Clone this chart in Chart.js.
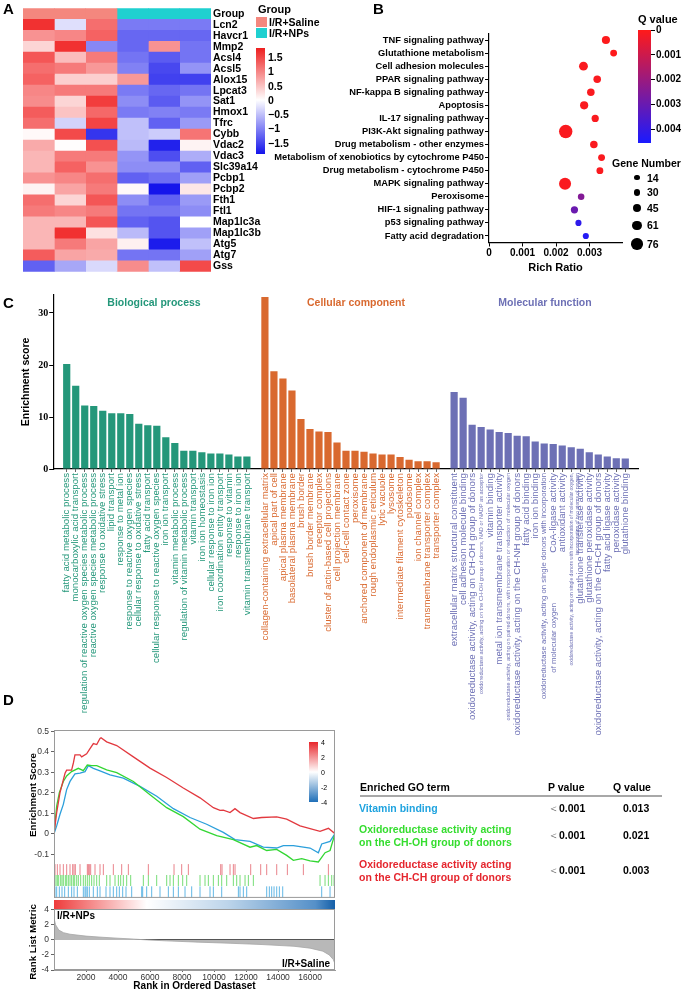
<!DOCTYPE html>
<html>
<head>
<meta charset="utf-8">
<script src="https://cdn.jsdelivr.net/npm/chart.js@4.4.1/dist/chart.umd.min.js"></script>
<style>
  html, body { margin: 0; padding: 0; background: #fff; }
  #page { position: relative; width: 682px; height: 992px; overflow: hidden; font-family: Arial, "Liberation Sans", sans-serif; color: #000; }
  #page canvas { position: absolute; }
  .t { position: absolute; white-space: nowrap; line-height: 1; font-weight: bold; }
  .letter { font-size: 15px; }
  .rot { transform: translate(-50%, -50%) rotate(-90deg); }
  .ctr { transform: translateX(-50%); }
  .box { position: absolute; }
</style>
</head>
<body>
<div id="page">
  <canvas id="heatmap" width="330" height="280" style="left:0;top:0"></canvas>
  <canvas id="bubble" width="432" height="280" style="left:250px;top:0"></canvas>
  <canvas id="goBars" width="682" height="460" style="left:0;top:285px"></canvas>
  <canvas id="esPlot" width="345" height="185" style="left:0;top:720px"></canvas>
  <canvas id="rankPlot" width="345" height="97" style="left:0;top:895px"></canvas>

  <!-- panel A legend -->
  <div class="t letter" style="left:3px;top:1px">A</div>
  <div class="t" style="left:258px;top:4px;font-size:11px">Group</div>
  <div class="box" style="left:256px;top:17px;width:11px;height:10px;background:#f4877e"></div>
  <div class="t" style="left:269px;top:16.5px;font-size:10.5px">I/R+Saline</div>
  <div class="box" style="left:256px;top:28px;width:11px;height:10px;background:#1fd0d0"></div>
  <div class="t" style="left:269px;top:27.5px;font-size:10.5px">I/R+NPs</div>
  <div class="box" style="left:256px;top:48px;width:9px;height:106px;background:linear-gradient(#ee1f1f,#ffffff 49%,#1414eb)"></div>
  <div class="t" style="left:268px;top:52px;font-size:10.5px">1.5</div>
  <div class="t" style="left:268px;top:66px;font-size:10.5px">1</div>
  <div class="t" style="left:268px;top:81px;font-size:10.5px">0.5</div>
  <div class="t" style="left:268px;top:95px;font-size:10.5px">0</div>
  <div class="t" style="left:268px;top:109px;font-size:10.5px">−0.5</div>
  <div class="t" style="left:268px;top:123px;font-size:10.5px">−1</div>
  <div class="t" style="left:268px;top:138px;font-size:10.5px">−1.5</div>

  <!-- panel B legend -->
  <div class="t letter" style="left:373px;top:1px">B</div>
  <div class="t" style="left:638px;top:14px;font-size:11px">Q value</div>
  <div class="box" style="left:638px;top:30px;width:13px;height:113px;background:linear-gradient(#ff1a1a,#1a1aff)"></div>
  <div class="box" style="left:651px;top:30px;width:4px;height:1px;background:#000"></div>
  <div class="box" style="left:651px;top:54px;width:4px;height:1px;background:#000"></div>
  <div class="box" style="left:651px;top:79px;width:4px;height:1px;background:#000"></div>
  <div class="box" style="left:651px;top:104px;width:4px;height:1px;background:#000"></div>
  <div class="box" style="left:651px;top:129px;width:4px;height:1px;background:#000"></div>
  <div class="t" style="left:656px;top:25px;font-size:10px">0</div>
  <div class="t" style="left:656px;top:49.5px;font-size:10px">0.001</div>
  <div class="t" style="left:656px;top:74px;font-size:10px">0.002</div>
  <div class="t" style="left:656px;top:99px;font-size:10px">0.003</div>
  <div class="t" style="left:656px;top:124px;font-size:10px">0.004</div>
  <div class="t" style="left:612px;top:158px;font-size:10.5px">Gene Number</div>
  <div class="box" style="left:634.3px;top:175px;width:5.4px;height:5.4px;border-radius:50%;background:#000"></div>
  <div class="box" style="left:633.7px;top:189px;width:6.6px;height:6.6px;border-radius:50%;background:#000"></div>
  <div class="box" style="left:633px;top:204px;width:8px;height:8px;border-radius:50%;background:#000"></div>
  <div class="box" style="left:632.3px;top:220.6px;width:9.4px;height:9.4px;border-radius:50%;background:#000"></div>
  <div class="box" style="left:631.3px;top:238.3px;width:11.4px;height:11.4px;border-radius:50%;background:#000"></div>
  <div class="t" style="left:647px;top:172.7px;font-size:10.5px">14</div>
  <div class="t" style="left:647px;top:187.3px;font-size:10.5px">30</div>
  <div class="t" style="left:647px;top:203px;font-size:10.5px">45</div>
  <div class="t" style="left:647px;top:220.3px;font-size:10.5px">61</div>
  <div class="t" style="left:647px;top:239px;font-size:10.5px">76</div>

  <!-- panel C annotations -->
  <div class="t letter" style="left:3px;top:295px">C</div>
  <div class="t ctr" style="left:154px;top:297px;font-size:10.5px;color:#24977a">Biological process</div>
  <div class="t ctr" style="left:356px;top:297px;font-size:10.5px;color:#d9692f">Cellular component</div>
  <div class="t ctr" style="left:545px;top:297px;font-size:10.5px;color:#6d70b5">Molecular function</div>

  <!-- panel D annotations -->
  <div class="t letter" style="left:3px;top:692px">D</div>
  <div class="t rot" style="left:33px;top:795px;font-size:9.8px">Enrichment Score</div>
  <div class="t rot" style="left:33px;top:942px;font-size:9.8px">Rank List Metric</div>
  <div class="t" style="left:57px;top:911px;font-size:10px">I/R+NPs</div>
  <div class="t" style="left:282px;top:959px;font-size:10px">I/R+Saline</div>
  <div class="box" style="left:309px;top:742px;width:9px;height:60px;background:linear-gradient(#e8262b,#ffffff 50%,#1f6fb8)"></div>
  <div class="t" style="left:321px;top:738.5px;font-size:7px;font-weight:normal">4</div>
  <div class="t" style="left:321px;top:753.5px;font-size:7px;font-weight:normal">2</div>
  <div class="t" style="left:321px;top:768.5px;font-size:7px;font-weight:normal">0</div>
  <div class="t" style="left:321px;top:783.5px;font-size:7px;font-weight:normal">-2</div>
  <div class="t" style="left:321px;top:798.5px;font-size:7px;font-weight:normal">-4</div>

  <!-- GSEA table -->
  <div class="t" style="left:360px;top:782px;font-size:10.5px">Enriched GO term</div>
  <div class="t" style="left:548px;top:782px;font-size:10.5px">P value</div>
  <div class="t" style="left:613px;top:782px;font-size:10.5px">Q value</div>
  <div class="box" style="left:360px;top:795px;width:302px;height:1.5px;background:#a8a8a8"></div>
  <div class="t" style="left:359px;top:803px;font-size:10.5px;color:#1fa3df">Vitamin binding</div>
  <div class="t" style="left:548px;top:803px;font-size:10.5px"><span style="font-weight:normal;color:#666">＜</span>0.001</div>
  <div class="t" style="left:623px;top:803px;font-size:10.5px">0.013</div>
  <div class="t" style="left:359px;top:824px;font-size:10.5px;color:#35dd2f">Oxidoreductase activity acting</div>
  <div class="t" style="left:359px;top:837px;font-size:10.5px;color:#35dd2f">on the CH-OH group of donors</div>
  <div class="t" style="left:548px;top:830px;font-size:10.5px"><span style="font-weight:normal;color:#666">＜</span>0.001</div>
  <div class="t" style="left:623px;top:830px;font-size:10.5px">0.021</div>
  <div class="t" style="left:359px;top:859px;font-size:10.5px;color:#e5262e">Oxidoreductase activity acting</div>
  <div class="t" style="left:359px;top:872px;font-size:10.5px;color:#e5262e">on the CH-CH group of donors</div>
  <div class="t" style="left:548px;top:865px;font-size:10.5px"><span style="font-weight:normal;color:#666">＜</span>0.001</div>
  <div class="t" style="left:623px;top:865px;font-size:10.5px">0.003</div>
</div>

<script>
// ---------- Panel A: heatmap of z-scores ----------
const genes = ['Lcn2', 'Havcr1', 'Mmp2', 'Acsl4', 'Acsl5', 'Alox15', 'Lpcat3', 'Sat1', 'Hmox1', 'Tfrc',
  'Cybb', 'Vdac2', 'Vdac3', 'Slc39a14', 'Pcbp1', 'Pcbp2', 'Fth1', 'Ftl1', 'Map1lc3a', 'Map1lc3b',
  'Atg5', 'Atg7', 'Gss'];
const samples = ['Saline 1', 'Saline 2', 'Saline 3', 'NPs 1', 'NPs 2', 'NPs 3'];
const sampleGroups = ['I/R+Saline', 'I/R+Saline', 'I/R+Saline', 'I/R+NPs', 'I/R+NPs', 'I/R+NPs'];
const zScores = [
  [1.7, -0.25, 1.2, -1.05, -1.05, -1.05],
  [0.9, 1.0, 1.3, -1.2, -1.2, -1.2],
  [0.35, 1.7, -0.95, -1.2, 0.9, -1.1],
  [1.4, 0.55, 1.1, -1.1, -1.3, -1.1],
  [1.2, 1.1, 0.85, -1.0, -1.45, -0.85],
  [1.3, 0.4, 0.4, 0.85, -1.5, -1.5],
  [1.0, 1.1, 1.1, -1.05, -1.2, -1.1],
  [0.95, 0.35, 1.6, -0.9, -1.3, -0.85],
  [1.35, 0.5, 1.25, -1.05, -1.0, -1.05],
  [1.2, -0.35, 1.55, -0.5, -1.25, -0.8],
  [0.05, 1.5, -1.6, -0.5, -0.4, 1.15],
  [0.7, 0.02, 1.45, -0.55, -1.75, 0.1],
  [0.6, 1.1, 1.1, -0.85, -1.4, -0.65],
  [0.6, 1.3, 0.9, -0.9, -0.9, -1.25],
  [0.9, 1.0, 1.2, -1.25, -1.15, -0.75],
  [0.1, 0.75, 1.1, 0.05, -1.85, 0.2],
  [1.2, 0.35, 1.4, -0.9, -1.25, -0.8],
  [1.1, 1.0, 1.1, -1.1, -1.1, -0.9],
  [0.6, 0.6, 1.4, -1.25, -1.35, 0.0],
  [0.6, 1.7, 0.25, -0.55, -1.35, -0.75],
  [0.6, 1.1, 0.75, 0.12, -1.8, -0.5],
  [1.35, 0.75, 0.7, -1.1, -1.1, -0.75],
  [-1.25, -0.7, -0.3, 0.95, -0.5, 1.5]
];

// ---------- Panel B: KEGG bubble ----------
const pathways = ['TNF signaling pathway', 'Glutathione metabolism', 'Cell adhesion molecules',
  'PPAR signaling pathway', 'NF-kappa B signaling pathway', 'Apoptosis', 'IL-17 signaling pathway',
  'PI3K-Akt signaling pathway', 'Drug metabolism - other enzymes',
  'Metabolism of xenobiotics by cytochrome P450', 'Drug metabolism - cytochrome P450',
  'MAPK signaling pathway', 'Peroxisome', 'HIF-1 signaling pathway', 'p53 signaling pathway',
  'Fatty acid degradation'];
const richRatio = [0.00349, 0.00372, 0.00282, 0.00323, 0.00304, 0.00284, 0.00317, 0.00229, 0.00313,
  0.00336, 0.00331, 0.00227, 0.00275, 0.00255, 0.00267, 0.00289];
const geneNumber = [28, 20, 33, 24, 24, 28, 22, 76, 24, 20, 20, 61, 18, 22, 16, 16];
const qValue = [0.00005, 0.00003, 0.0001, 0.0001, 0.0001, 0.0001, 0.0001, 0.0001, 0.0001, 0.0001,
  0.0001, 0.0001, 0.0025, 0.003, 0.0042, 0.0044];
const richTicks = [0, 0.001, 0.002, 0.003];

// ---------- Panel C: GO enrichment ----------
const bpTerms = ['fatty acid metabolic process', 'monocarboxylic acid transport',
  'regulation of reactive oxygen species metabolic process', 'reactive oxygen species metabolic process',
  'response to oxidative stress', 'lipid transport', 'response to metal ion',
  'response to reactive oxygen species', 'cellular response to oxidative stress', 'fatty acid transport',
  'cellular response to reactive oxygen species', 'iron ion transport', 'vitamin metabolic process',
  'regulation of vitamin metabolic process', 'vitamin transport', 'iron ion homeostasis',
  'cellular response to iron ion', 'iron coordination entity transport', 'response to vitamin',
  'response to iron ion', 'vitamin transmembrane transport'];
const bpScores = [20.2, 16.0, 12.2, 12.1, 11.2, 10.7, 10.7, 10.6, 8.7, 8.4, 8.3, 6.1, 5.0, 3.5, 3.5,
  3.2, 3.0, 3.0, 2.8, 2.4, 2.4];
const ccTerms = ['collagen-containing extracellular matrix', 'apical part of cell', 'apical plasma membrane',
  'basolateral plasma membrane', 'brush border', 'brush border membrane', 'receptor complex',
  'cluster of actin-based cell projections', 'cell projection membrane', 'cell-cell contact zone',
  'peroxisome', 'anchored component of membrane', 'rough endoplasmic reticulum', 'lytic vacuole',
  'lysosome', 'intermediate filament cytoskeleton', 'podosome', 'ion channel complex',
  'transmembrane transporter complex', 'transporter complex'];
const ccScores = [33.1, 18.8, 17.4, 15.1, 9.6, 7.7, 7.2, 7.1, 5.1, 3.5, 3.5, 3.3, 3.0, 2.8, 2.8, 2.3,
  1.8, 1.5, 1.5, 1.3];
const mfTerms = ['extracellular matrix structural constituent', 'cell adhesion molecule binding',
  'oxidoreductase activity, acting on CH-OH group of donors',
  'oxidoreductase activity, acting on the CH-OH group of donors, NAD or NADP as acceptor',
  'vitamin binding', 'metal ion transmembrane transporter activity',
  'oxidoreductase activity, acting on paired donors, with incorporation or reduction of molecular oxygen',
  'oxidoreductase activity, acting on the CH-NH group of donors', 'fatty acid binding', 'iron ion binding',
  ['oxidoreductase activity, acting on single donors with incorporation', 'of molecular oxygen'],
  'CoA-ligase activity', 'antioxidant activity',
  ['oxidoreductase activity, acting on single donors with incorporation of molecular oxygen,', 'incorporation of two atoms of oxygen'],
  'glutathione transferase activity', 'glutathione peroxidase activity',
  'oxidoreductase activity, acting on the CH-CH group of donors', 'fatty acid ligase activity',
  'peroxidase activity', 'glutathione binding'];
const mfScores = [14.8, 13.7, 8.5, 8.1, 7.6, 7.1, 6.9, 6.4, 6.3, 5.3, 4.9, 4.8, 4.5, 4.2, 3.9, 3.2,
  2.8, 2.4, 2.05, 2.0];
const scoreTicks = [0, 10, 20, 30];

// ---------- Panel D: GSEA ----------
const esRedRank = [0, 167, 375, 690, 790, 1100, 1210, 1310, 1625, 1730, 2040, 2250, 2460, 2670, 2875, 2940,
  3290, 3920, 4960, 6000, 7040, 8080, 9125, 9960, 10375, 10580, 11000, 11310, 11625, 12460, 12980, 13920,
  14540, 15375, 16625, 17150, 17560];
const esRed = [0, 0.103, 0.2, 0.295, 0.31, 0.31, 0.345, 0.385, 0.385, 0.375, 0.39, 0.415, 0.44, 0.435,
  0.465, 0.468, 0.448, 0.43, 0.375, 0.32, 0.274, 0.223, 0.175, 0.127, 0.114, 0.115, 0.103, 0.122, 0.103,
  0.074, 0.079, 0.082, 0.071, 0.038, 0.011, 0.026, 0];
const esGreenRank = [0, 167, 333, 583, 790, 1100, 1520, 1833, 2080, 2350, 2670, 3290, 3920, 4960, 6000,
  7040, 8080, 9125, 10167, 11208, 12250, 12667, 13290, 13917, 14540, 14958, 15480, 16000, 16520, 16940,
  17250, 17560];
const esGreen = [0, 0.135, 0.2, 0.255, 0.282, 0.303, 0.319, 0.308, 0.335, 0.332, 0.332, 0.311, 0.298,
  0.255, 0.19, 0.127, 0.083, 0.022, -0.01, -0.029, -0.066, -0.058, -0.082, -0.077, -0.106, -0.13, -0.122,
  -0.133, -0.138, -0.093, -0.082, 0];
const esBlueRank = [0, 167, 375, 583, 790, 1000, 1310, 1625, 1940, 2146, 2460, 2875, 3500, 4330, 5375,
  6420, 7460, 8500, 9540, 10580, 11310, 12250, 13080, 13920, 14330, 14960, 16000, 16520, 16730, 17250, 17560];
const esBlue = [0, 0.038, 0.095, 0.143, 0.215, 0.255, 0.292, 0.295, 0.303, 0.332, 0.319, 0.306, 0.287,
  0.271, 0.231, 0.183, 0.122, 0.079, 0.046, 0.006, -0.029, -0.038, -0.066, -0.07, -0.058, -0.058, -0.07,
  -0.093, -0.05, -0.038, 0];
const hitsRed = [63, 208, 375, 583, 792, 1000, 1167, 1250, 1333, 1625, 2083, 2146, 2208, 2292, 2563, 2875,
  3083, 3708, 4229, 4646, 5896, 7500, 7979, 8396, 10417, 10500, 11000, 11208, 11313, 12292, 12917, 13292,
  13917, 14583, 15583, 17146];
const hitsGreen = [42, 125, 208, 292, 417, 500, 583, 708, 792, 896, 1000, 1104, 1208, 1292, 1417, 1521,
  1667, 1833, 1958, 2083, 2208, 2354, 2500, 2667, 2833, 3292, 3500, 3813, 4021, 4167, 4333, 4542, 4792,
  5583, 5896, 6417, 7042, 7250, 7458, 7771, 8042, 8292, 9125, 9438, 9646, 9958, 10271, 10479, 10792,
  11208, 11417, 11625, 11938, 12146, 12458, 16625, 16938, 17146, 17354, 17500];
const hitsBlue = [63, 167, 333, 500, 667, 896, 1104, 1250, 1458, 1833, 1938, 2000, 2083, 2208, 2458, 2708,
  2875, 3250, 3500, 3708, 3917, 4083, 4292, 4500, 4854, 5479, 5542, 5792, 6104, 6625, 7146, 7458, 7771,
  8188, 8604, 9125, 9750, 9958, 10479, 11521, 11625, 11833, 12042, 13292, 13458, 13604, 13750, 13917,
  14083, 14292, 16729, 17250];
const metricRank = [0, 100, 300, 600, 1000, 2000, 3000, 4000, 5000, 5800, 7000, 9000, 11000, 13000, 15000,
  16000, 16800, 17200, 17450, 17560];
const rankMetric = [2.9, 2.0, 1.3, 0.95, 0.75, 0.5, 0.35, 0.22, 0.1, 0, -0.13, -0.3, -0.45, -0.62, -0.85,
  -1.1, -1.5, -2.0, -2.6, -3.2];
const esTicks = [-0.1, 0, 0.1, 0.2, 0.3, 0.4, 0.5];
const metricTicks = [4, 2, 0, -2, -4];
const rankTicks = [2000, 4000, 6000, 8000, 10000, 12000, 14000, 16000];
const totalGenes = 17560;

Chart.defaults.font.family = 'Arial, "Liberation Sans", Helvetica, sans-serif';
Chart.defaults.color = '#000';
Chart.defaults.animation = false;
Chart.defaults.plugins.legend.display = false;
Chart.defaults.plugins.tooltip.enabled = false;

const setTicks = (values) => (scale) => { scale.ticks = values.map(v => ({ value: v })); };

// ----- A -----
function heatColor(z) {
  const t = Math.max(-1, Math.min(1, z / 1.86));
  if (t >= 0) {
    return `rgb(${Math.round(255 - 15 * t)},${Math.round(255 - 225 * t)},${Math.round(255 - 225 * t)})`;
  }
  const a = -t;
  return `rgb(${Math.round(255 - 235 * a)},${Math.round(255 - 235 * a)},${Math.round(255 - 20 * a)})`;
}
const groupColor = { 'I/R+Saline': '#f4877e', 'I/R+NPs': '#1fd0d0' };
const heatRows = ['Group'].concat(genes);

new Chart(document.getElementById('heatmap'), {
  type: 'bar',
  data: {
    labels: heatRows,
    datasets: samples.map((s, j) => ({
      label: s,
      data: heatRows.map(() => 1),
      backgroundColor: [groupColor[sampleGroups[j]]].concat(zScores.map(row => heatColor(row[j]))),
      borderWidth: 0,
      barPercentage: 1,
      categoryPercentage: 1
    }))
  },
  options: {
    indexAxis: 'y',
    responsive: false,
    devicePixelRatio: 1,
    layout: { padding: { left: 23, top: 7, bottom: 8, right: 0 } },
    scales: {
      x: { display: false, stacked: true, min: 0, max: samples.length },
      y: {
        stacked: true,
        position: 'right',
        grid: { display: false, drawTicks: false },
        border: { display: false },
        ticks: { padding: 2, autoSkip: false, color: '#000', font: { size: 10.5, weight: 'bold' } },
        afterFit: (scale) => { scale.width = 119; }
      }
    }
  }
});

// ----- B -----
function qColor(q) {
  const t = Math.max(0, Math.min(1, q / 0.0046));
  return `rgb(${Math.round(255 - 229 * t)},26,${Math.round(26 + 229 * t)})`;
}

new Chart(document.getElementById('bubble'), {
  type: 'bubble',
  data: {
    datasets: [{
      label: 'KEGG',
      data: pathways.map((p, i) => ({ x: richRatio[i], y: p, r: 0.77 * Math.sqrt(geneNumber[i]) })),
      backgroundColor: qValue.map(qColor),
      borderWidth: 0
    }]
  },
  options: {
    responsive: false,
    devicePixelRatio: 1,
    layout: { padding: { top: 33.5, right: 60, left: 0, bottom: 0 } },
    scales: {
      x: {
        type: 'linear', min: 0, max: 0.00397,
        grid: { drawOnChartArea: false, tickLength: 4, color: '#000' },
        border: { color: '#000', width: 1.2 },
        ticks: { padding: 1, font: { size: 10, weight: 'bold' }, callback: v => v === 0 ? '0' : v.toFixed(3) },
        afterBuildTicks: setTicks(richTicks),
        title: { display: true, text: 'Rich Ratio', font: { size: 11, weight: 'bold' }, padding: { top: 0, bottom: 5 } },
        afterFit: (scale) => { scale.height = 37.5; }
      },
      y: {
        type: 'category', labels: pathways, offset: true,
        grid: { drawOnChartArea: false, tickLength: 4, color: '#000' },
        border: { color: '#000', width: 1.2 },
        ticks: { padding: 1, autoSkip: false, font: { size: 9.3, weight: 'bold' } },
        afterFit: (scale) => { scale.width = 239; }
      }
    }
  }
});

// ----- C -----
const groupPalette = { bp: '#24977a', cc: '#d9692f', mf: '#6d70b5' };
const slotLabels = [''], slotScores = [null], slotColors = ['rgba(0,0,0,0)'];
function addGroup(terms, scores, color) {
  terms.forEach((t, i) => { slotLabels.push(t); slotScores.push(scores[i]); slotColors.push(color); });
}
addGroup(bpTerms, bpScores, groupPalette.bp);
slotLabels.push(''); slotScores.push(null); slotColors.push('rgba(0,0,0,0)');
addGroup(ccTerms, ccScores, groupPalette.cc);
slotLabels.push(''); slotScores.push(null); slotColors.push('rgba(0,0,0,0)');
addGroup(mfTerms, mfScores, groupPalette.mf);
slotLabels.push(''); slotScores.push(null); slotColors.push('rgba(0,0,0,0)');

function labelSize(label) {
  if (Array.isArray(label)) return label.some(l => l.length > 80) ? 5 : 7.8;
  return label.length > 80 ? 5.6 : 9.7;
}
// second line of a wrapped label sits further from the axis, as in the figure
function tickText(label) {
  if (!Array.isArray(label)) return label;
  const tiny = label.some(l => l.length > 80);
  return [label[0], label[1] + ' '.repeat(tiny ? 0 : 60)];
}

new Chart(document.getElementById('goBars'), {
  type: 'bar',
  data: {
    labels: slotLabels,
    datasets: [{
      label: 'Enrichment score',
      data: slotScores,
      backgroundColor: slotColors,
      borderWidth: 0,
      barPercentage: 0.8,
      categoryPercentage: 1
    }]
  },
  options: {
    responsive: false,
    devicePixelRatio: 1,
    layout: { padding: { top: 9.8, right: 43.2, left: 0, bottom: 0 } },
    scales: {
      x: {
        grid: { drawOnChartArea: false, offset: false, tickLength: 3, color: ctx => slotLabels[ctx.index] ? '#666' : 'rgba(0,0,0,0)' },
        border: { color: '#000', width: 1.2 },
        ticks: {
          autoSkip: false, minRotation: 90, maxRotation: 90, padding: 1,
          color: ctx => slotColors[ctx.index],
          font: ctx => ({ size: labelSize(slotLabels[ctx.index]) }),
          callback: (v, i) => tickText(slotLabels[i])
        },
        afterFit: (scale) => { scale.height = 276; }
      },
      y: {
        min: 0, max: 33.5,
        grid: { drawOnChartArea: false, tickLength: 4, color: '#000' },
        border: { color: '#000', width: 1.2 },
        ticks: { padding: 1, font: { family: '"Liberation Serif", "Times New Roman", serif', size: 10, weight: 'bold' } },
        afterBuildTicks: setTicks(scoreTicks),
        title: { display: true, text: 'Enrichment score', font: { size: 10.5, weight: 'bold' }, padding: { top: 20, bottom: 0 } },
        afterFit: (scale) => { scale.width = 53.2; }
      }
    }
  }
});

// ----- D -----
const framePlugin = {
  id: 'frame',
  afterDraw(chart) {
    const { ctx, chartArea: a } = chart;
    ctx.save();
    ctx.strokeStyle = '#9a9a9a';
    ctx.lineWidth = 1;
    ctx.strokeRect(a.left + 0.5, a.top + 0.5, a.right - a.left - 1, a.bottom - a.top - 1);
    ctx.restore();
  }
};
const toPoints = (xs, ys) => xs.map((x, i) => ({ x: x, y: ys[i] }));
const hitRow = (ranks, y) => ranks.map(r => ({ x: r, y: y }));
const esLine = (label, data, color) => ({
  label, data, showLine: true, borderColor: color, borderWidth: 1.3, pointRadius: 0, fill: false
});
const hitSet = (label, data, color) => ({
  label, data, showLine: false, pointStyle: 'line', pointRotation: 90, pointRadius: 5.5,
  borderColor: color, pointBorderColor: color, pointBorderWidth: 1
});

new Chart(document.getElementById('esPlot'), {
  type: 'scatter',
  data: {
    datasets: [
      esLine('Oxidoreductase CH-CH', toPoints(esRedRank, esRed), '#e2393f'),
      esLine('Oxidoreductase CH-OH', toPoints(esGreenRank, esGreen), '#33d633'),
      esLine('Vitamin binding', toPoints(esBlueRank, esBlue), '#2b9fdb'),
      hitSet('hits CH-CH', hitRow(hitsRed, -0.1754), 'rgba(226,90,100,0.75)'),
      hitSet('hits CH-OH', hitRow(hitsGreen, -0.2285), 'rgba(95,215,95,0.85)'),
      hitSet('hits vitamin', hitRow(hitsBlue, -0.284), 'rgba(70,170,225,0.85)')
    ]
  },
  options: {
    responsive: false,
    devicePixelRatio: 1,
    layout: { padding: { top: 10, right: 10, bottom: 6, left: 0 } },
    scales: {
      x: { type: 'linear', display: false, min: 0, max: totalGenes },
      y: {
        min: -0.3135, max: 0.506,
        grid: { drawOnChartArea: false, tickLength: 3, tickColor: '#666' },
        border: { color: '#9a9a9a' },
        ticks: { padding: 2, color: '#333', font: { size: 8.5 }, callback: v => v === 0 ? '0' : v.toFixed(1) },
        afterBuildTicks: setTicks(esTicks),
        afterFit: (scale) => { scale.width = 54; }
      }
    }
  },
  plugins: [framePlugin]
});

const gradientBarPlugin = {
  id: 'gradientBar',
  beforeDraw(chart) {
    const { ctx, chartArea: a } = chart;
    const g = ctx.createLinearGradient(a.left, 0, a.right, 0);
    g.addColorStop(0, '#ee3b3b');
    g.addColorStop(0.33, '#ffffff');
    g.addColorStop(0.62, '#bcd4ea');
    g.addColorStop(0.93, '#5590c8');
    g.addColorStop(1, '#155fa8');
    ctx.save();
    ctx.fillStyle = g;
    ctx.fillRect(a.left, a.top - 9, a.right - a.left, 9);
    ctx.restore();
  }
};

new Chart(document.getElementById('rankPlot'), {
  type: 'scatter',
  data: {
    datasets: [{
      label: 'Rank list metric',
      data: toPoints(metricRank, rankMetric),
      showLine: true, fill: 'origin',
      backgroundColor: '#b8b8b8', borderColor: '#a6a6a6', borderWidth: 0.8, pointRadius: 0
    }]
  },
  options: {
    responsive: false,
    devicePixelRatio: 1,
    layout: { padding: { top: 14, right: 10, bottom: 0, left: 0 } },
    scales: {
      x: {
        type: 'linear', min: 0, max: totalGenes,
        grid: { drawOnChartArea: false, tickLength: 2, tickColor: '#666' },
        border: { color: '#9a9a9a' },
        ticks: { padding: 1, color: '#333', font: { size: 8.5 }, callback: v => String(v) },
        afterBuildTicks: setTicks(rankTicks),
        title: { display: true, text: 'Rank in Ordered Dastaset', font: { size: 10, weight: 'bold' }, padding: { top: 0, bottom: 0 } },
        afterFit: (scale) => { scale.height = 22; }
      },
      y: {
        min: -4, max: 4.1,
        grid: {
          drawOnChartArea: true, tickLength: 3, tickColor: '#666',
          color: ctx => ctx.tick && ctx.tick.value === 0 ? '#555' : 'rgba(0,0,0,0)'
        },
        border: { color: '#9a9a9a' },
        ticks: { padding: 2, color: '#333', font: { size: 8.5 } },
        afterBuildTicks: setTicks(metricTicks),
        afterFit: (scale) => { scale.width = 54; }
      }
    }
  },
  plugins: [framePlugin, gradientBarPlugin]
});
</script>
</body>
</html>
